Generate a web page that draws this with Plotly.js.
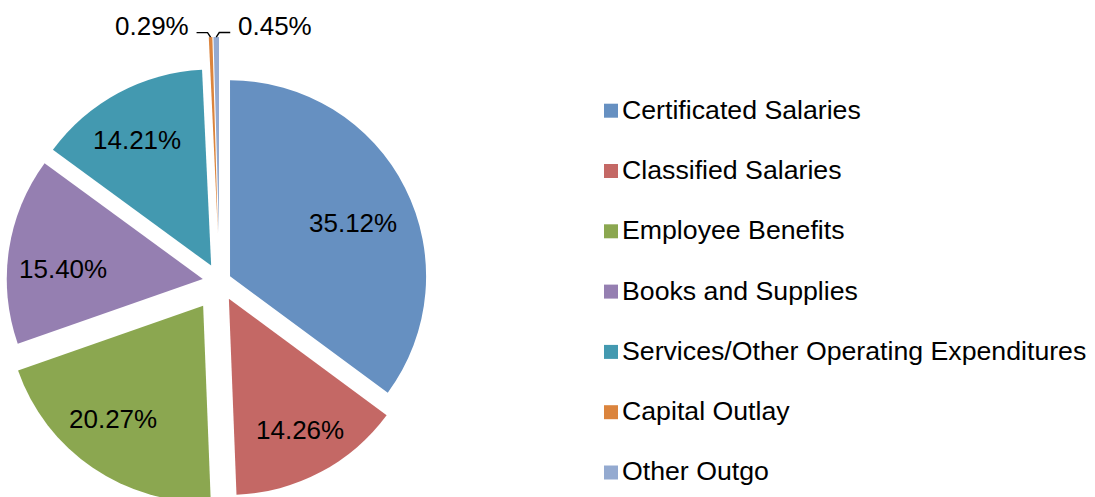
<!DOCTYPE html>
<html><head><meta charset="utf-8">
<script src="https://cdn.plot.ly/plotly-3.0.1.min.js"></script>
<style>
html,body{margin:0;padding:0;background:#fff;overflow:hidden}
#wrap{position:relative;width:1095px;height:497px;overflow:hidden;background:#fff}
#chart{position:absolute;left:-40px;top:0;width:1135px;height:563px}
</style></head><body>
<div id="wrap"><div id="chart"></div></div>
<script>
// ---- data ----
const categories = ["Certificated Salaries", "Classified Salaries", "Employee Benefits",
  "Books and Supplies", "Services/Other Operating Expenditures", "Capital Outlay", "Other Outgo"];
const shares = [35.12, 14.26, 20.27, 15.40, 14.21, 0.29, 0.45];
const percentLabels = ["35.12%", "14.26%", "20.27%", "15.40%", "14.21%", "0.29%", "0.45%"];

// ---- styles ----
const sliceColors = ["#6690C1", "#C46865", "#8BA750", "#957FB1", "#4399B0", "#DB843D", "#94AAD0"];
const slicePull = [0.059, 0.10, 0.15, 0.087, 0.092, 0.247, 0.247];
const labelRadius = [0.684, 0.76, 0.737, 0.716, 0.745];
const labelTurnDeg = [3.3, -0.6, 4.2, -4.4, -2.2];
const FONT = "Liberation Sans, Arial, Helvetica, sans-serif";

const W = 1135, H = 563, OFF = 40;
const PIE_CX = 219.7 + OFF;
const HALF = 244.5;
const domX = [(PIE_CX - HALF) / W, (PIE_CX + HALF) / W];
const maxPull = Math.max(...slicePull);
const R = Math.min(HALF, H / 2) / (1 + maxPull);
const CX = PIE_CX, CY = H / 2;
const px = x => x / W;
const py = y => 1 - y / H;

const total = shares.reduce((a, b) => a + b, 0);
let cum = 0;
const mids = shares.map(v => { const m = (cum + v / 2) / total * 2 * Math.PI; cum += v; return m; });

const annotations = [];
const shapes = [];
mids.forEach((a, i) => {
  const dx = Math.sin(a), dy = -Math.cos(a);
  const ax = CX + slicePull[i] * R * dx, ay = CY + slicePull[i] * R * dy;
  if (shares[i] >= 5) {
    const k = labelRadius[i] * R;
    const b = a + labelTurnDeg[i] * Math.PI / 180;
    annotations.push({xref: 'paper', yref: 'paper', x: px(ax + k * Math.sin(b)), y: py(ay - k * Math.cos(b)),
      text: percentLabels[i], showarrow: false, xanchor: 'center', yanchor: 'middle',
      font: {family: FONT, size: 26, color: '#000'}});
  } else {
    const side = i === 5 ? -1 : 1;
    const tx = ax + R * dx, ty = ay + R * dy;
    const yl = ty - 4.5;
    const x1 = tx + side * 3, x2 = tx + side * 14;
    shapes.push({type: 'path', xref: 'paper', yref: 'paper',
      path: `M${px(tx)},${py(ty)} L${px(x1)},${py(yl)} L${px(x2)},${py(yl)}`,
      line: {color: '#000', width: 1.4}});
    annotations.push({xref: 'paper', yref: 'paper', x: px(x2 + side * 6), y: py(yl - 7),
      text: percentLabels[i], showarrow: false, xanchor: side < 0 ? 'right' : 'left', yanchor: 'middle',
      font: {family: FONT, size: 26, color: '#000'}});
  }
});

// legend (drawn by hand to match the reference spacing)
const LEG_Y0 = 109.7, LEG_DY = 60.3, SQ_X = 604 + OFF, TXT_X = 620 + OFF;
categories.forEach((c, i) => {
  const yc = LEG_Y0 + i * LEG_DY;
  shapes.push({type: 'rect', xref: 'paper', yref: 'paper',
    x0: px(SQ_X), x1: px(SQ_X + 14), y0: py(yc - 6), y1: py(yc + 8),
    fillcolor: sliceColors[i], line: {width: 0}});
  annotations.push({xref: 'paper', yref: 'paper', x: px(TXT_X), y: py(yc),
    text: c, showarrow: false, xanchor: 'left', yanchor: 'middle',
    font: {family: FONT, size: 26.7, color: '#000'}});
});

const trace = {
  type: 'pie', labels: categories, values: shares, sort: false,
  direction: 'clockwise', rotation: 0, pull: slicePull,
  marker: {colors: sliceColors, line: {width: 0}},
  textinfo: 'none', hoverinfo: 'label+percent',
  domain: {x: domX, y: [0, 1]}, showlegend: false
};

Plotly.newPlot('chart', [trace], {
  width: W, height: H, margin: {l: 0, r: 0, t: 0, b: 0},
  paper_bgcolor: '#fff', plot_bgcolor: '#fff', showlegend: false,
  annotations: annotations, shapes: shapes,
  font: {family: FONT, color: '#000'}
}, {displayModeBar: false, staticPlot: true});
</script>
</body></html>
